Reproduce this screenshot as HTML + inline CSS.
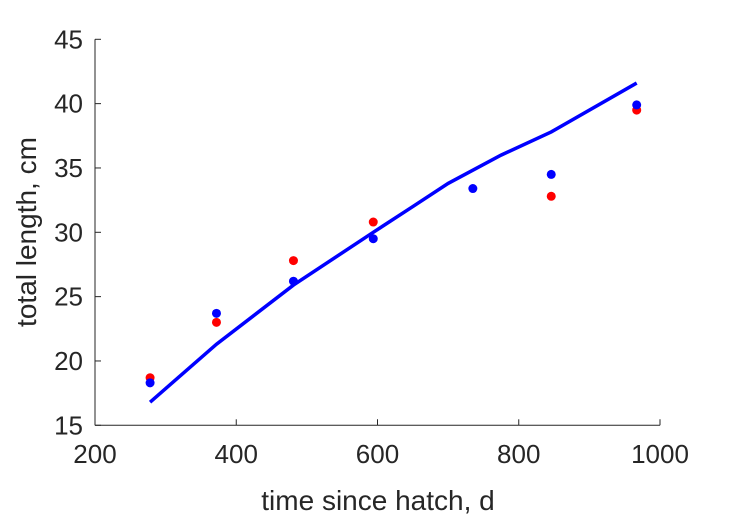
<!DOCTYPE html>
<html><head><meta charset="utf-8"><style>
html,body{margin:0;padding:0;background:#fff;}
svg{display:block;font-family:"Liberation Sans",Arial,sans-serif;}
</style></head><body>
<svg id="chart" width="729" height="521" viewBox="0 0 729 521">
<g id="axes"></g>
<g id="marks"></g>
<text x="378" y="510" font-size="28" fill="#262626" text-anchor="middle">time since hatch, d</text>
<text transform="translate(36,232) rotate(-90)" font-size="28" fill="#262626" text-anchor="middle">total length, cm</text>
</svg>
<script>
const xTicks = [200, 400, 600, 800, 1000];
const yTicks = [15, 20, 25, 30, 35, 40, 45];
const ages = [278, 372, 481, 594, 735, 846, 967];
const redAges = [278, 372, 481, 594, 846, 967];
const redLengths = [18.7, 23.0, 27.8, 30.8, 32.8, 39.5];
const blueLengths = [18.3, 23.7, 26.2, 29.5, 33.4, 34.5, 39.9];
const fitAges = [278, 372, 481, 594, 650, 700, 775, 846, 967];
const fitLengths = [16.8, 21.3, 25.9, 30.0, 32.0, 33.8, 36.0, 37.8, 41.6];

const X0 = 95, X1 = 660, Y0 = 425.3, Y1 = 39.3;
const xS = v => X0 + (v - 200) / 800 * (X1 - X0);
const yS = v => Y0 - (v - 15) / 30 * (Y0 - Y1);
const NS = "http://www.w3.org/2000/svg";
const axes = document.getElementById('axes');
const marks = document.getElementById('marks');
function mk(tag, attrs, parent) {
  const e = document.createElementNS(NS, tag);
  for (const k in attrs) e.setAttribute(k, attrs[k]);
  parent.appendChild(e);
  return e;
}
let ax = mk('line', {x1: X0, y1: Y0, x2: X1, y2: Y0, stroke: '#262626', 'stroke-width': 1}, axes);


let ay = mk('line', {x1: X0, y1: Y0, x2: X0, y2: Y1, stroke: '#262626', 'stroke-width': 1}, axes);


xTicks.forEach(t => {
  const x = xS(t);
  const l = mk('line', {x1: x, y1: Y0, x2: x, y2: Y0 - 6, stroke: '#262626'}, axes);
  
  
  const tx = mk('text', {x: x, y: 463, 'font-size': 26, fill: '#262626', 'text-anchor': 'middle'}, axes);
  tx.textContent = t;
  
  
});
yTicks.forEach(t => {
  const y = yS(t);
  const l = mk('line', {x1: X0, y1: y, x2: X0 + 6, y2: y, stroke: '#262626'}, axes);
  
  
  const tx = mk('text', {x: 83, y: y + 9, 'font-size': 26, fill: '#262626', 'text-anchor': 'end'}, axes);
  tx.textContent = t;
  
  
});
const pts = fitAges.map((a, i) => xS(a) + ',' + yS(fitLengths[i])).join(' ');
const fit = mk('polyline', {points: pts, fill: 'none', stroke: '#0000ff', 'stroke-width': 3.5}, marks);


redAges.forEach((a, i) => {
  const c = mk('circle', {cx: xS(a), cy: yS(redLengths[i]), r: 4.5, fill: '#ff0000'}, marks);
  
  
});
ages.forEach((a, i) => {
  const c = mk('circle', {cx: xS(a), cy: yS(blueLengths[i]), r: 4.5, fill: '#0000ff'}, marks);
  
  
});
</script>
</body></html>
